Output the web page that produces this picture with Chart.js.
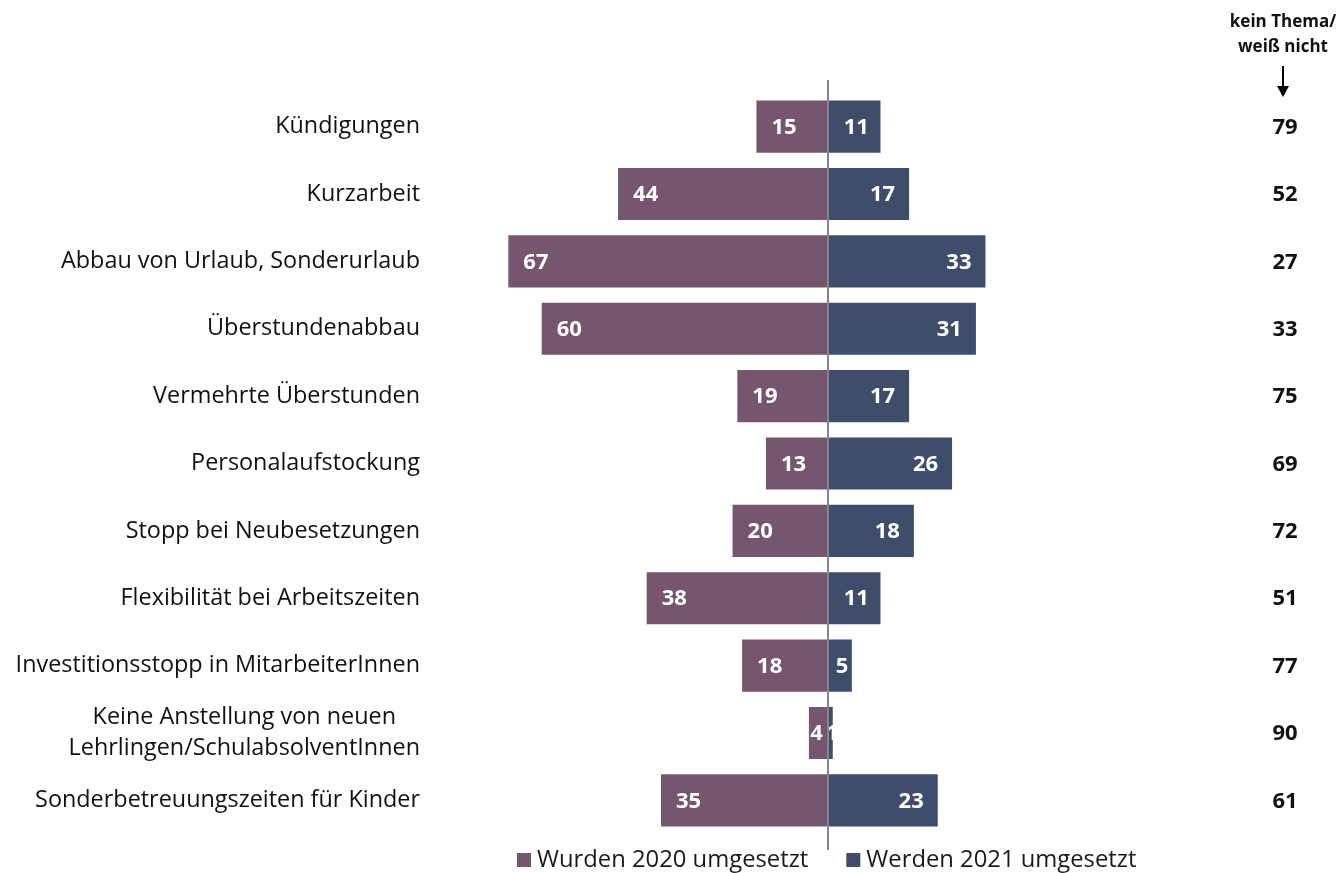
<!DOCTYPE html>
<html><head><meta charset="utf-8">
<script src="https://cdn.jsdelivr.net/npm/chart.js@4"></script>
<style>html,body{margin:0;padding:0;background:#fff}#wrap{width:1342px;height:873px;position:relative}</style>
</head><body><div id="wrap"><canvas id="c"></canvas></div>
<script>
const categories = [
  'Kündigungen',
  'Kurzarbeit',
  'Abbau von Urlaub, Sonderurlaub',
  'Überstundenabbau',
  'Vermehrte Überstunden',
  'Personalaufstockung',
  'Stopp bei Neubesetzungen',
  'Flexibilität bei Arbeitszeiten',
  'Investitionsstopp in MitarbeiterInnen',
  ['Keine Anstellung von neuen', 'Lehrlingen/SchulabsolventInnen'],
  'Sonderbetreuungszeiten für Kinder'
];
const values2020 = [15, 44, 67, 60, 19, 13, 20, 38, 18, 4, 35];
const values2021 = [11, 17, 33, 31, 17, 26, 18, 11, 5, 1, 23];
const noTopic = [79, 52, 27, 33, 75, 69, 72, 51, 77, 90, 61];
const seriesNames = ['Wurden 2020 umgesetzt', 'Werden 2021 umgesetzt'];
const headerLines = ['kein Thema/', 'weiß nicht'];

const FONT = '"Open Sans", "Noto Sans", sans-serif';
const C2020 = '#76566e';
const C2021 = '#3d4d6a';

const overlay = {
  id: 'overlay',
  afterDatasetsDraw(chart) {
    const ctx = chart.ctx;
    const xs = chart.scales.x;
    ctx.save();
    ctx.font = 'bold 22px ' + FONT;
    ctx.fillStyle = '#ffffff';
    ctx.textBaseline = 'middle';
    chart.data.datasets.forEach((ds, di) => {
      const meta = chart.getDatasetMeta(di);
      const src = di === 0 ? values2020 : values2021;
      meta.data.forEach((el, i) => {
        const txt = String(src[i]);
        const w = ctx.measureText(txt).width;
        const len = Math.abs(el.x - el.base);
        let tx;
        if (len < w + 28) {
          ctx.textAlign = 'center';
          tx = (el.x + el.base) / 2 + (el.x < el.base ? -2 : 2);
        } else if (el.x < el.base) {
          ctx.textAlign = 'left';
          tx = el.x + 15;
        } else {
          ctx.textAlign = 'right';
          tx = el.x - 14;
        }
        ctx.fillText(txt, tx, el.y + 1);
      });
    });
    const x0 = xs.getPixelForValue(0);
    ctx.strokeStyle = '#858585';
    ctx.lineWidth = 2;
    ctx.beginPath();
    ctx.moveTo(x0, 80);
    ctx.lineTo(x0, 850);
    ctx.stroke();
    ctx.restore();
  },
  afterDraw(chart) {
    const ctx = chart.ctx;
    const ys = chart.scales.y;
    ctx.save();
    ctx.font = '23.4px ' + FONT;
    ctx.fillStyle = '#111';
    ctx.textBaseline = 'middle';
    ctx.textAlign = 'center';
    const right = 420;
    categories.forEach((lab, i) => {
      const lines = Array.isArray(lab) ? lab : [lab];
      const bw = Math.max(...lines.map(l => ctx.measureText(l).width));
      const cx = right - bw / 2;
      const y = ys.getPixelForValue(i);
      const lh = 31;
      lines.forEach((l, k) => {
        ctx.fillText(l, cx, y + (k - (lines.length - 1) / 2) * lh);
      });
    });
    const colX = 1285;
    ctx.font = 'bold 22px ' + FONT;
    noTopic.forEach((v, i) => {
      ctx.fillText(String(v), colX, ys.getPixelForValue(i) + 1);
    });
    ctx.font = 'bold 17px ' + FONT;
    headerLines.forEach((l, k) => ctx.fillText(l, 1283, 22 + k * 25));
    ctx.strokeStyle = '#000';
    ctx.lineWidth = 2;
    ctx.beginPath();
    ctx.moveTo(1283, 66);
    ctx.lineTo(1283, 88);
    ctx.stroke();
    ctx.fillStyle = '#000';
    ctx.beginPath();
    ctx.moveTo(1277, 86);
    ctx.lineTo(1289, 86);
    ctx.lineTo(1283, 97);
    ctx.closePath();
    ctx.fill();
    ctx.font = '23.8px ' + FONT;
    ctx.textAlign = 'left';
    let lx = 517;
    const ly = 860;
    chart.data.datasets.forEach((ds) => {
      ctx.fillStyle = ds.backgroundColor;
      ctx.fillRect(lx, ly - 7, 14, 14);
      ctx.fillStyle = '#1a1a1a';
      ctx.fillText(ds.label, lx + 20, ly);
      lx += 20 + ctx.measureText(ds.label).width + 38;
    });
    ctx.restore();
  }
};

new Chart(document.getElementById('c'), {
  type: 'bar',
  data: {
    labels: categories,
    datasets: [
      { label: seriesNames[0], data: values2020.map(v => -v), backgroundColor: C2020, borderWidth: 0 },
      { label: seriesNames[1], data: values2021, backgroundColor: C2021, borderWidth: 0 }
    ]
  },
  options: {
    indexAxis: 'y',
    responsive: true,
    maintainAspectRatio: false,
    animation: false,
    layout: { padding: { left: 494, right: 180, top: 93, bottom: 39 } },
    datasets: { bar: { categoryPercentage: 1, barPercentage: 0.774 } },
    scales: {
      x: { stacked: true, min: -70, max: 70, display: false },
      y: { stacked: true, display: false }
    },
    plugins: {
      tooltip: { enabled: false },
      legend: { display: false }
    }
  },
  plugins: [overlay]
});
</script>
</body></html>
